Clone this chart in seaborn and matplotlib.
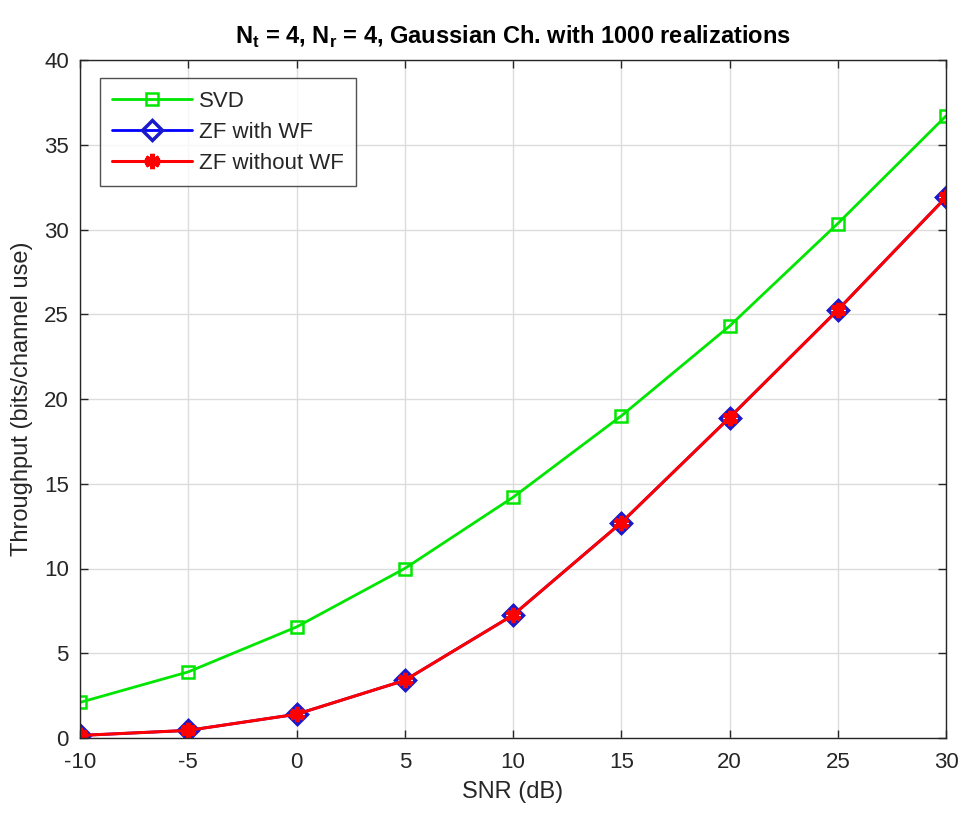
import numpy as np
import pandas as pd
import matplotlib
matplotlib.use("Agg")
import matplotlib.pyplot as plt
import seaborn as sns

snr_db = [-10, -5, 0, 5, 10, 15, 20, 25, 30]
svd = [2.1, 3.9, 6.55, 10.0, 14.2, 19.0, 24.3, 30.35, 36.7]
zf_wf = [0.15, 0.45, 1.4, 3.4, 7.25, 12.7, 18.9, 25.25, 31.9]
zf_nowf = [0.15, 0.45, 1.4, 3.4, 7.25, 12.7, 18.9, 25.25, 31.9]

sns.set_theme(style="white")
plt.rcParams['font.family'] = ['Liberation Sans', 'DejaVu Sans']
plt.rcParams['axes.unicode_minus'] = False

fig = plt.figure(figsize=(9.63, 8.19), dpi=100)
ax = fig.add_axes([80/963, 1 - 738/819, (946-80)/963, (738-60)/819])

df1 = pd.DataFrame({"snr": snr_db, "val": svd})
df2 = pd.DataFrame({"snr": snr_db, "val": zf_wf})
df3 = pd.DataFrame({"snr": snr_db, "val": zf_nowf})

sns.lineplot(data=df1, x="snr", y="val", ax=ax, color="#00e600", lw=2,
             marker="s", markersize=9, markerfacecolor="none",
             markeredgecolor="#00e600", markeredgewidth=1.8, label="SVD")
sns.lineplot(data=df2, x="snr", y="val", ax=ax, color="#0000ff", lw=2,
             marker="D", markersize=10, markerfacecolor="none",
             markeredgecolor="#1a1acc", markeredgewidth=2.5, label="ZF with WF")
sns.lineplot(data=df3, x="snr", y="val", ax=ax, color="#ff0000", lw=2.2,
             marker=(6, 2, 0), markersize=11, markerfacecolor="#ff0000",
             markeredgecolor="#ff0000", markeredgewidth=3.5, label="ZF without WF")

ax.set_xlim(-10, 30)
ax.set_ylim(0, 40)
ax.set_xticks(np.arange(-10, 31, 5))
ax.set_yticks(np.arange(0, 41, 5))
ax.grid(True, color="#dcdcdc", lw=1)
for s in ax.spines.values():
    s.set_color("#262626")
    s.set_linewidth(1)
ax.tick_params(direction="in", length=6, width=1, labelsize=16, colors="#262626",
               top=True, right=True, bottom=True, left=True)
ax.tick_params(axis="x", pad=10)
ax.tick_params(axis="y", pad=8)
ax.set_xlabel("SNR (dB)", fontsize=17, color="#262626", labelpad=6)
ax.set_ylabel("Throughput (bits/channel use)", fontsize=17, color="#262626", labelpad=8)
ax.set_title(r"N$_\mathregular{t}$ = 4, N$_\mathregular{r}$ = 4, Gaussian Ch. with 1000 realizations",
             fontsize=17, fontweight="bold", color="#000000", pad=12)

leg = ax.legend(loc="upper left", bbox_to_anchor=(0.023, 0.973), fontsize=16,
                frameon=True, fancybox=False, edgecolor="#262626",
                handlelength=3.6, handletextpad=0.3, borderpad=0.55, labelspacing=0.45,
                borderaxespad=0)
leg.get_frame().set_linewidth(1)

fig.savefig("out.png", dpi=100, facecolor="white")
